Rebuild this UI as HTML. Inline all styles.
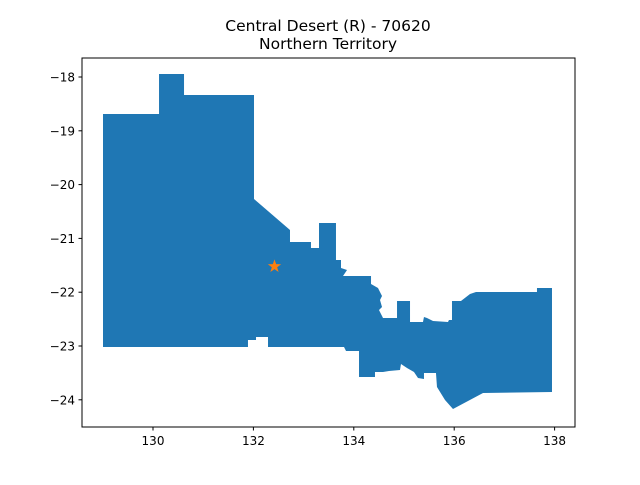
<!DOCTYPE html>
<html><head><meta charset="utf-8"><style>
body{margin:0;background:#fff;font-family:"Liberation Sans","DejaVu Sans",sans-serif;}
svg text{font-family:"DejaVu Sans","Liberation Sans",sans-serif;}
</style></head><body>
<svg id="chart" width="640" height="480" viewBox="0 0 640 480">
<rect width="640" height="480" fill="#fff"/>
<text x="328" y="31" text-anchor="middle" font-size="15.5">Central Desert (R) - 70620</text>
<text x="328" y="49" text-anchor="middle" font-size="15.5">Northern Territory</text>
<g id="plot"></g>
<rect x="82" y="58" width="493" height="369" fill="none" stroke="#000" stroke-width="1"/>
<g id="ticks"></g>
</svg>
<script>
const outlinePx = [[103,114],[159,114],[159,74],[184,74],[184,95],[254,95],[254,199],[290,230],[290,242],[311,242],[311,248],[319,248],[319,223],[336,223],[336,260],[341,260],[341,268],[347,270],[343,276],[371,276],[371,284],[378,288],[382,296],[380,300],[382,307],[379,310],[383,318],[397,318],[397,301],[410,301],[410,322],[423,322],[424,317],[427,318],[433,321],[448,322],[449,320],[452,320],[452,301],[461,301],[470,294],[476,292],[537,292],[537,288],[552,288],[552,392],[483,393],[453,409],[445,400],[437,387],[436,373],[424,373],[424,379],[418,378],[414,372],[407,368],[401,364],[400,370],[389,371],[383,372],[375,372],[375,377],[359,377],[359,351],[346,351],[344,347],[268,347],[268,337],[256,337],[256,340],[248,340],[248,347],[103,347]];
const lons = outlinePx.map(p=>+(130+(p[0]-153)/50.2).toFixed(3));
const lats = outlinePx.map(p=>+(-18-(p[1]-77)/53.8).toFixed(3));
const starLon = [132.42];
const starLat = [-21.52];
const xTicks = [130,132,134,136,138];
const yTicks = [-18,-19,-20,-21,-22,-23,-24];

const X = v => 153 + (v-130)*50.2;
const Y = v => 77 - (v+18)*53.8;
const NS = "http://www.w3.org/2000/svg";
const plot = document.getElementById('plot');
const ticks = document.getElementById('ticks');

const poly = document.createElementNS(NS,'polygon');
poly.setAttribute('points', lons.map((l,i)=>X(l)+','+Y(lats[i])).join(' '));
poly.setAttribute('fill','#1f77b4');


plot.appendChild(poly);

starLon.forEach((l,i)=>{
  const cx=X(l), cy=Y(starLat[i]), R=7, r=2.8; let pts=[];
  for(let k=0;k<10;k++){const a=-Math.PI/2+k*Math.PI/5; const rr=k%2?r:R; pts.push((cx+rr*Math.cos(a)).toFixed(2)+','+(cy+rr*Math.sin(a)).toFixed(2));}
  const s=document.createElementNS(NS,'polygon');
  s.setAttribute('points',pts.join(' '));
  s.setAttribute('fill','#ff7f0e');
  
  
  plot.appendChild(s);
});

xTicks.forEach(t=>{
  const x=X(t);
  const ln=document.createElementNS(NS,'line');
  ln.setAttribute('x1',x);ln.setAttribute('x2',x);ln.setAttribute('y1',427);ln.setAttribute('y2',430.5);ln.setAttribute('stroke','#000');
  
  
  ticks.appendChild(ln);
  const tx=document.createElementNS(NS,'text');
  tx.setAttribute('x',x);tx.setAttribute('y',445);tx.setAttribute('text-anchor','middle');tx.setAttribute('font-size','12');
  tx.textContent=t;
  
  
  ticks.appendChild(tx);
});
yTicks.forEach(t=>{
  const y=Y(t);
  const ln=document.createElementNS(NS,'line');
  ln.setAttribute('x1',78.5);ln.setAttribute('x2',82);ln.setAttribute('y1',y);ln.setAttribute('y2',y);ln.setAttribute('stroke','#000');
  
  
  ticks.appendChild(ln);
  const tx=document.createElementNS(NS,'text');
  tx.setAttribute('x',75);tx.setAttribute('y',y+4.5);tx.setAttribute('text-anchor','end');tx.setAttribute('font-size','12');
  tx.textContent='\u2212'+Math.abs(t);
  
  
  ticks.appendChild(tx);
});
</script>
</body></html>
